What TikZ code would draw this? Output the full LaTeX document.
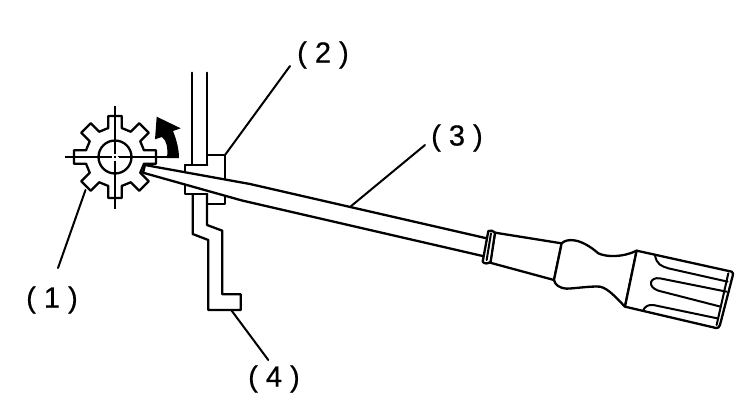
\documentclass[tikz,border=0pt]{standalone}
\usepackage{fontspec}
\setmainfont[FakeBold=0.6]{Liberation Sans}
\tikzset{
  ink/.style={draw=black,line width=2.3pt,line join=round,line cap=round},
  thin ink/.style={draw=black,line width=2pt,line join=round,line cap=round},
  lab/.style={font=\fontsize{29}{31}\selectfont,inner sep=0pt,text=black},
}
\begin{document}
\begin{tikzpicture}[x=1pt,y=-1pt]
\useasboundingbox (0,0) rectangle (750,416);
\fill[white] (0,0) rectangle (750,416);
% labels
\node[lab] (lab1) at (52,300) {( 1 )};
\node[lab] (lab2) at (323,55) {( 2 )};
\node[lab] (lab3) at (457,138) {( 3 )};
\node[lab] (lab4) at (274,379) {( 4 )};
% leader ends
\coordinate (a1) at (85.5,190); \coordinate (b1) at (58,268);
\coordinate (a2) at (225,155);  \coordinate (b2) at (290,66);
\coordinate (a3) at (350,207);  \coordinate (b3) at (425,145);
\coordinate (a4) at (231.7,310.7); \coordinate (b4) at (268.3,360);
\draw[thin ink] (a1) -- (b1);
\draw[thin ink] (a2) -- (b2);
\draw[thin ink] (a3) -- (b3);
\draw[thin ink] (a4) -- (b4);
% gear
\begin{scope}[shift={(115,157)}]
\draw[ink] (29,-6.7)
  \foreach \a in {0,45,...,315} {
    -- ([rotate=-\a]29,-6.7) -- ([rotate=-\a]41,-6.7) -- ([rotate=-\a]41,6.7) -- ([rotate=-\a]29,6.7)
  } -- cycle;
\draw[ink] (0,0) circle[radius=16.5pt];
\draw[thin ink,line cap=butt] (-50,0) -- (63,0);
\draw[thin ink,line cap=butt] (0,-51) -- (0,52);
\fill[white] (-3.5,-3.5) rectangle (3.5,3.5);
\fill[black] (-1.5,-1) rectangle (0.5,1);
\fill[black] (2.5,-1.5) rectangle (4,-0.2);
\end{scope}
% rotation arrow
\fill[black] (167,158) .. controls (168,148) and (167,141) .. (162,137)
  -- (155,139.3) -- (156.7,116.7) -- (180.7,128.3) -- (173,131)
  .. controls (177,141) and (179,150) .. (179,158) -- cycle;
% bracket
\draw[ink] (192.3,72.7) -- (192.3,165);
\draw[ink] (207.3,72.7) -- (207.3,165);
\draw[ink] (207.3,155) -- (225,155) -- (225,204) -- (207.3,204);
\draw[ink] (185,165) -- (207.3,165);
\draw[ink] (185,165) -- (185,194.3) -- (207.3,194.3);
\draw[ink] (192.7,194.3) -- (192.7,234) -- (208.3,240) -- (208.3,310) -- (240.7,310)
  -- (240.7,294.3) -- (222.3,294.3) -- (222.3,230.7) -- (207,225) -- (207,194.3);
% screwdriver shaft
\draw[ink,fill=white] (486.7,238.3) -- (250,184) -- (145,165) -- (143,172.7) -- (242,200.5) -- (482.7,256);
% handle
\begin{scope}[shift={(460,210)},x=0.3333pt,y=-0.3333pt]
\draw[ink,fill=white] (105,68) -- (305,100) -- (282,210) -- (90,158) -- cycle;
\draw[ink,fill=white] (85,63) .. controls (92,60) and (100,62) .. (105,68)
  -- (92,155) .. controls (85,162) and (72,162) .. (68,155) -- cycle;
\draw[thin ink] (93,70) -- (80,150);
\draw[ink,fill=white] (305,100) .. controls (320,85) and (360,82) .. (415,130)
  .. controls (440,142) and (490,142) .. (530,122)
  -- (495,290) .. controls (470,265) and (445,235) .. (420,230)
  .. controls (390,228) and (350,235) .. (320,236)
  .. controls (300,235) and (285,225) .. (282,210) -- cycle;
\draw[ink,fill=white] (530,122) -- (815,185) .. controls (820,188) and (820,192) .. (818,198)
  -- (780,345) .. controls (778,352) and (774,355) .. (768,354) -- (495,290) -- cycle;
\draw[thin ink] (805,190) -- (770,345);
\draw[thin ink] (585,135) .. controls (590,165) and (605,168) .. (625,175) -- (803,215);
\draw[thin ink] (800,245) -- (600,205) .. controls (570,200) and (560,230) .. (595,242) -- (782,290);
\draw[thin ink] (772,325) -- (580,285) .. controls (565,283) and (555,290) .. (550,300);
\end{scope}
\end{tikzpicture}
\end{document}
